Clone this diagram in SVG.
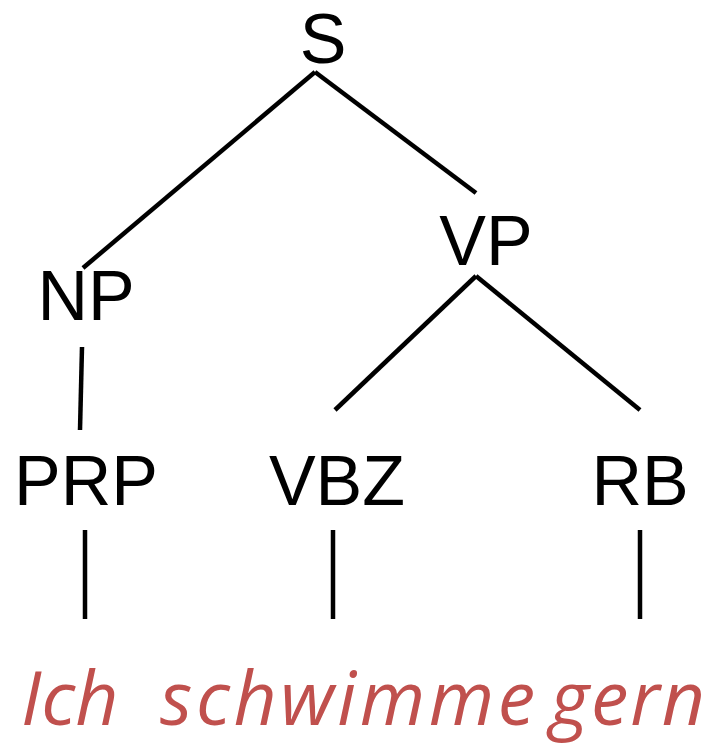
<svg xmlns="http://www.w3.org/2000/svg" width="725" height="743" viewBox="0 0 725 743">
  <style>
    .lbl { font-family: "Liberation Sans", Arial, sans-serif; font-size: 70px; fill: #000; text-anchor: middle; }
    .edge { stroke: #000; stroke-width: 4.5; fill: none; }
    .word { font-family: "Open Sans", "Noto Sans", sans-serif; font-style: italic; font-size: 75px; fill: #C0504D; }
  </style>
  <rect width="725" height="743" fill="#fff"/>
  <!-- tree edges -->
  <g id="connectors">
    <line class="edge" x1="315" y1="72" x2="83" y2="268"/>
    <line class="edge" x1="315" y1="72" x2="476" y2="193"/>
    <line class="edge" x1="82" y1="347" x2="80" y2="430"/>
    <line class="edge" x1="476" y1="276" x2="335" y2="410"/>
    <line class="edge" x1="476" y1="276" x2="640" y2="410"/>
    <line class="edge" x1="85" y1="530" x2="85" y2="619"/>
    <line class="edge" x1="333" y1="530" x2="333" y2="619"/>
    <line class="edge" x1="640" y1="530" x2="640" y2="619"/>
  </g>
  <!-- phrase and tag nodes -->
  <g id="S"><text class="lbl" x="323" y="63">S</text></g>
  <g id="NP"><text class="lbl" x="86" y="320">NP</text></g>
  <g id="VP"><text class="lbl" x="486" y="265">VP</text></g>
  <g id="PRP"><text class="lbl" x="86" y="505">PRP</text></g>
  <g id="VBZ"><text class="lbl" x="337" y="505">VBZ</text></g>
  <g id="RB"><text class="lbl" x="640" y="505">RB</text></g>
  <!-- surface words -->
  <g id="sentence">
    <text class="word" y="725"><tspan x="21">Ich</tspan><tspan x="160" textLength="375">schwimme</tspan><tspan x="550" textLength="155">gern</tspan></text>
  </g>
</svg>
